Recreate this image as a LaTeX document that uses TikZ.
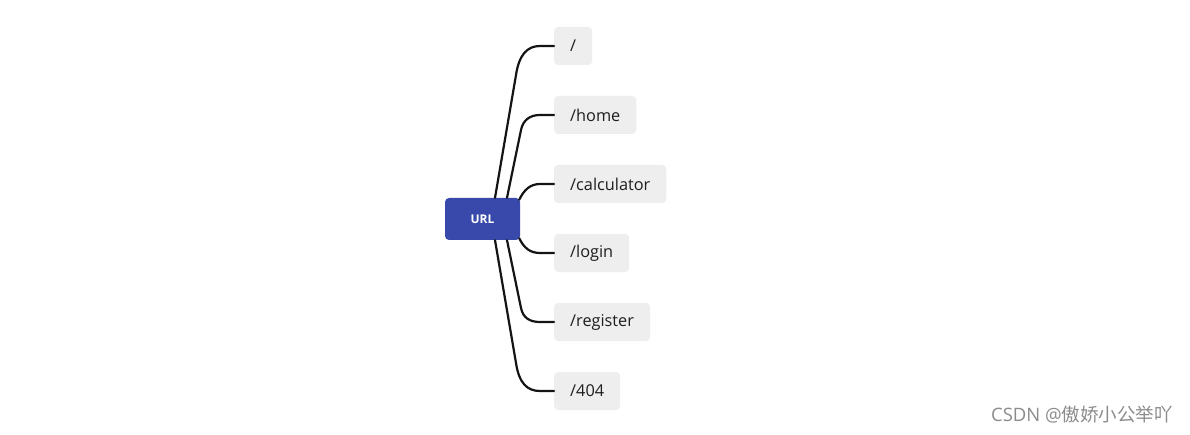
\documentclass[tikz,border=0pt]{standalone}
\usepackage{fontspec}
\setmainfont{Open Sans}
\newfontfamily\cjkfont{Noto Sans CJK SC}
\usetikzlibrary{calc}
\definecolor{urlblue}{RGB}{57,73,171}
\definecolor{leafgray}{RGB}{238,238,238}
\definecolor{linecol}{RGB}{20,20,20}
\definecolor{leaftext}{RGB}{30,30,30}
\begin{document}
\begin{tikzpicture}[x=1pt,y=1pt,
  rootbox/.style={fill=urlblue, rounded corners=4pt, minimum width=75pt, minimum height=42pt, inner sep=0pt, text=white, font=\fontsize{12}{14}\selectfont\bfseries},
  leafbox/.style={fill=leafgray, rounded corners=4pt, minimum height=38pt, inner xsep=16pt, inner ysep=0pt, anchor=west, text=leaftext, font=\fontsize{16.3}{19}\selectfont},
  conn/.style={draw=linecol, line width=2.2pt, line cap=round}]
\useasboundingbox[fill=white] (0,0) rectangle (1190,434);
\node[rootbox] (url) at (482.5,215) {URL};
\node[leafbox] (c1) at (554,388) {/};
\node[leafbox] (c2) at (554,319) {/home};
\node[leafbox] (c3) at (554,250) {/calculator};
\node[leafbox] (c4) at (554,181) {/login};
\node[leafbox] (c5) at (554,112) {/register};
\node[leafbox] (c6) at (554,43) {/404};
\draw[conn] ([xshift=12.5pt]url.north) -- ($(c1.west)+(-38,-29)$) .. controls ($(c1.west)+(-35,-9)$) and ($(c1.west)+(-27,0)$) .. ($(c1.west)+(-14,0)$) -- (c1.west);
\draw[conn] ([xshift=24.5pt]url.north) -- ($(c2.west)+(-33,-15)$) .. controls ($(c2.west)+(-31,-5)$) and ($(c2.west)+(-24,0)$) .. ($(c2.west)+(-14,0)$) -- (c2.west);
\draw[conn] ([shift={(-1,-2)}]url.north east) .. controls ($(c3.west)+(-30,-6)$) and ($(c3.west)+(-24,0)$) .. ($(c3.west)+(-14,0)$) -- (c3.west);
\draw[conn] ([shift={(-1,2)}]url.south east) .. controls ($(c4.west)+(-30,5)$) and ($(c4.west)+(-24,0)$) .. ($(c4.west)+(-14,0)$) -- (c4.west);
\draw[conn] ([xshift=24.5pt]url.south) -- ($(c5.west)+(-33,14)$) .. controls ($(c5.west)+(-31,4)$) and ($(c5.west)+(-24,0)$) .. ($(c5.west)+(-14,0)$) -- (c5.west);
\draw[conn] ([xshift=12.5pt]url.south) -- ($(c6.west)+(-38,28)$) .. controls ($(c6.west)+(-35,8)$) and ($(c6.west)+(-27,0)$) .. ($(c6.west)+(-14,0)$) -- (c6.west);
\node[anchor=east, text=black!45, font=\fontsize{18.5}{21}\selectfont, inner sep=0pt] (wm) at (1173,19) {CSDN @{\cjkfont 傲娇小公举吖}};
\end{tikzpicture}
\end{document}
